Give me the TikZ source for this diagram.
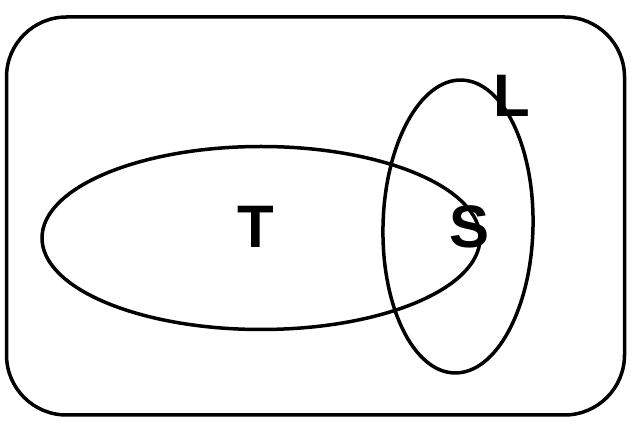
\documentclass[tikz,border=0pt]{standalone}
\usepackage{fontspec}
\setmainfont{Liberation Sans}
\begin{document}
\begin{tikzpicture}[x=1pt,y=1pt,
  outline/.style={draw=black,line width=3.5pt},
  setlabel/.style={inner sep=0pt,anchor=base,font=\fontsize{60}{72}\selectfont\bfseries}]
\useasboundingbox (0,0) rectangle (632,428);
\draw[outline,rounded corners=60pt] (6.5,13) rectangle (624.5,411);
\draw[outline] (261,190) ellipse [x radius=219, y radius=91.5];
\draw[outline,rotate around={-1.4:(458,201.5)}] (458,201.5) ellipse [x radius=75, y radius=146.5];
\node[setlabel] (t) at (256,180) {T};
\node[setlabel] (s) at (470,180.5) {S};
\node[setlabel] (l) at (512,311) {L};
\end{tikzpicture}
\end{document}
